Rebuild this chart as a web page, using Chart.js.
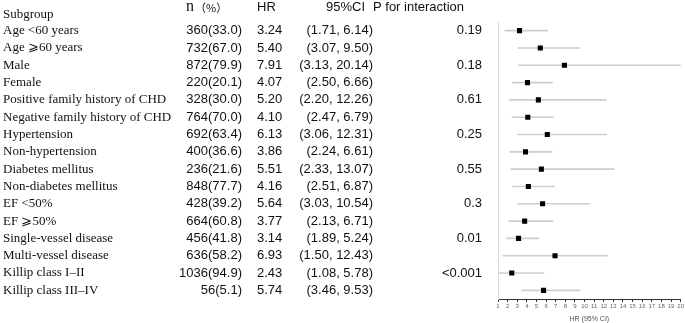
<!DOCTYPE html>
<html>
<head>
<meta charset="utf-8">
<script src="https://cdn.jsdelivr.net/npm/chart.js@4.4.1/dist/chart.umd.min.js"></script>
<style>
  html, body { margin: 0; padding: 0; background: #fff; }
  #forest { display: block; }
</style>
</head>
<body>
<canvas id="forest" width="685" height="323"></canvas>
<script>
// Subgroup rows, top to bottom
const subgroups = [
    "Age <60 years", "Age \u2a7e60 years", "Male", "Female",
    "Positive family history of CHD", "Negative family history of CHD",
    "Hypertension", "Non-hypertension", "Diabetes mellitus", "Non-diabetes mellitus",
    "EF <50%", "EF \u2a7e50%", "Single-vessel disease", "Multi-vessel disease",
    "Killip class I\u2013II", "Killip class III\u2013IV"
];
const nPct = [
    "360(33.0)", "732(67.0)", "872(79.9)", "220(20.1)", "328(30.0)", "764(70.0)",
    "692(63.4)", "400(36.6)", "236(21.6)", "848(77.7)", "428(39.2)", "664(60.8)",
    "456(41.8)", "636(58.2)", "1036(94.9)", "56(5.1)"
];
const hr = [3.24, 5.40, 7.91, 4.07, 5.20, 4.10, 6.13, 3.86, 5.51, 4.16, 5.64, 3.77, 3.14, 6.93, 2.43, 5.74];
const ciLow = [1.71, 3.07, 3.13, 2.50, 2.20, 2.47, 3.06, 2.24, 2.33, 2.51, 3.03, 2.13, 1.89, 1.50, 1.08, 3.46];
const ciHigh = [6.14, 9.50, 20.14, 6.66, 12.26, 6.79, 12.31, 6.61, 13.07, 6.87, 10.54, 6.71, 5.24, 12.43, 5.78, 9.53];
// P for interaction, shown on the first row of each pair
const pInteraction = ["0.19", "", "0.18", "", "0.61", "", "0.25", "", "0.55", "", "0.3", "", "0.01", "", "<0.001", ""];

const serif = '"Liberation Serif", "DejaVu Serif", serif';
const sans = '"Liberation Sans", Arial, sans-serif';

// draws the table columns next to the plot, aligned with the y scale
const tablePlugin = {
    id: "tableText",
    afterDraw(chart) {
        const ctx = chart.ctx;
        const y = chart.scales.y;
        ctx.save();
        ctx.fillStyle = "#111";
        ctx.textBaseline = "middle";

        // headers
        const headY = y.getPixelForValue(-1.35);
        ctx.font = "13px " + serif;
        ctx.textAlign = "left";
        ctx.fillText("Subgroup", 3, y.getPixelForValue(-0.92));

        ctx.font = "16px " + serif;
        ctx.fillText("n", 186, headY);
        const nw = ctx.measureText("n").width;
        ctx.font = '11px "Noto Sans CJK SC", sans-serif';
        ctx.fillText("\uff08%\uff09", 186 + nw + 1, headY + 1);

        ctx.font = "13px " + sans;
        ctx.fillText("HR", 257, headY);
        ctx.fillText("95%CI", 326, headY);
        ctx.fillText("P for interaction", 373, headY);

        subgroups.forEach((label, i) => {
            const py = y.getPixelForValue(i);
            ctx.font = "13px " + serif;
            ctx.textAlign = "left";
            ctx.fillText(label, 3, py);

            ctx.font = "13px " + sans;
            ctx.textAlign = "right";
            ctx.fillText(nPct[i], 242, py);
            ctx.textAlign = "left";
            ctx.fillText(hr[i].toFixed(2), 257, py);
            ctx.textAlign = "right";
            ctx.fillText("(" + ciLow[i].toFixed(2) + ", " + ciHigh[i].toFixed(2) + ")", 373, py);
            if (pInteraction[i]) ctx.fillText(pInteraction[i], 482, py);
        });
        ctx.restore();
    }
};

const ctx = document.getElementById("forest").getContext("2d");
const forestChart = new Chart(ctx, {
    type: "scatter",
    data: {
        datasets: [{
            type: "scatter",
            label: "HR",
            data: hr.map((v, i) => ({ x: v, y: i })),
            pointStyle: "rect",
            pointRadius: 3.6,
            backgroundColor: "#000",
            borderWidth: 0,
            order: 0
        }, {
            type: "bar",
            label: "95% CI",
            indexAxis: "y",
            data: ciLow.map((v, i) => ({ x: [v, ciHigh[i]], y: i })),
            barThickness: 1,
            backgroundColor: "#cdcdcd",
            borderWidth: 0,
            order: 1
        }]
    },
    options: {
        responsive: false,
        animation: false,
        events: [],
        layout: { padding: { left: 498, right: 4, top: 22, bottom: 0 } },
        plugins: { legend: { display: false }, tooltip: { enabled: false } },
        scales: {
            x: {
                type: "linear",
                position: "bottom",
                min: 1,
                max: 20,
                offset: false,
                ticks: { stepSize: 1, font: { size: 6, family: sans }, color: "#666", padding: 1, maxRotation: 0, autoSkip: false },
                grid: { drawOnChartArea: false, drawTicks: true, tickLength: 3, color: "#333", offset: false },
                border: { color: "#333", width: 1 },
                title: { display: true, text: "HR (95% CI)", font: { size: 7, family: sans }, color: "#555", padding: 0 },
                afterFit: (scale) => { scale.height = 24; }
            },
            y: {
                type: "linear",
                min: -0.5,
                max: 15.5,
                reverse: true,
                offset: false,
                ticks: { display: false },
                grid: { display: false, offset: false },
                border: { color: "#dcdcdc", width: 1 },
                afterFit: (scale) => { scale.width = 0; }
            }
        }
    },
    plugins: [tablePlugin]
});
</script>
</body>
</html>
